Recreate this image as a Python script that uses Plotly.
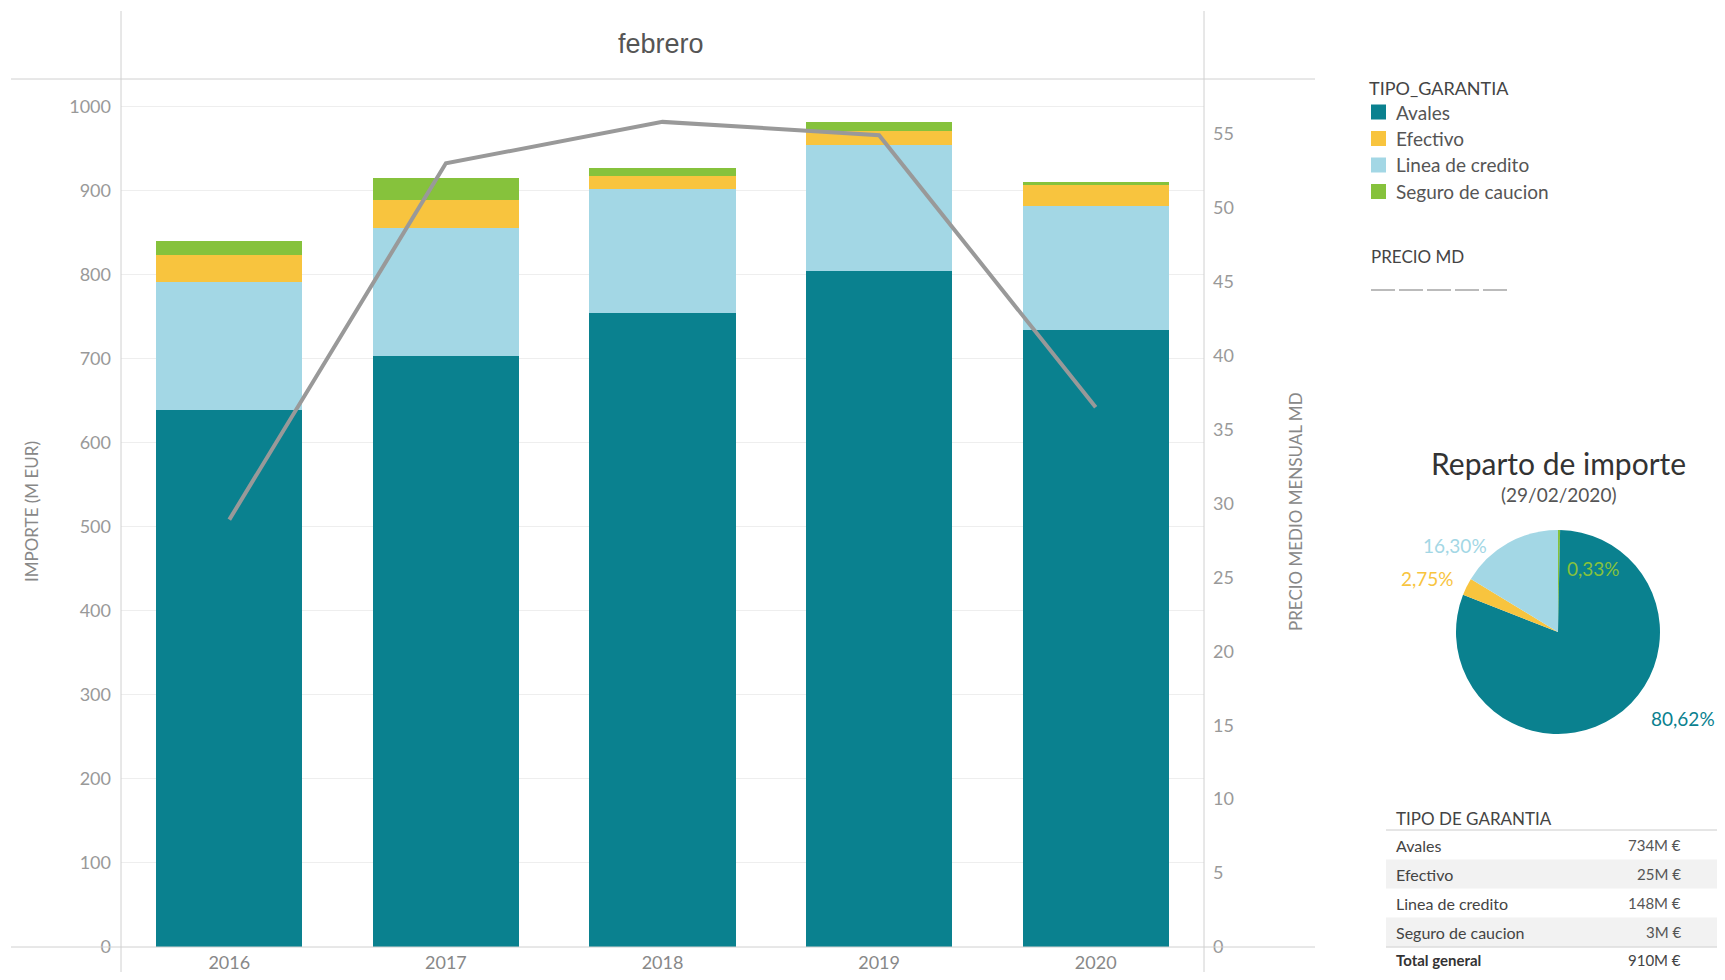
import plotly.graph_objects as go

# the page body adds an 8px margin, so the figure is laid out in page pixels
# and shifted back by that offset
PAGE_W, PAGE_H = 1725, 980
OFF = 8
W, H = PAGE_W - 2 * OFF, PAGE_H - 2 * OFF

# data
years = ["2016", "2017", "2018", "2019", "2020"]
avales = [639, 703, 754, 805, 734]
linea_credito = [153, 153, 148, 149, 148]
efectivo = [31, 33, 15, 17, 25]
seguro_caucion = [17, 26, 10, 11, 3]
precio_md = [28.9, 53.0, 55.8, 54.9, 36.5]

legend_names = ["Avales", "Efectivo", "Linea de credito", "Seguro de caucion"]
colors = {
    "Avales": "#0A818F",
    "Efectivo": "#F8C43E",
    "Linea de credito": "#A3D7E5",
    "Seguro de caucion": "#86C23C",
}

# pie (29/02/2020), clockwise from 12 o'clock
pie_labels = ["Seguro de caucion", "Avales", "Efectivo", "Linea de credito"]
pie_pct = [0.33, 80.62, 2.75, 16.30]

table_labels = ["Avales", "Efectivo", "Linea de credito", "Seguro de caucion"]
table_values = [734, 25, 148, 3]
table_total = 910

FONT = "Lato"
GRID = "#EEEEEE"
AXLINE = "#D0D0D0"


def px(x):
    return (x - OFF) / W


def py(y):
    return 1 - (y - OFF) / H


fig = go.Figure()

stack = [("Avales", avales), ("Linea de credito", linea_credito),
         ("Efectivo", efectivo), ("Seguro de caucion", seguro_caucion)]
for name, vals in stack:
    fig.add_trace(go.Bar(x=years, y=vals, name=name, marker_color=colors[name],
                         marker_line_width=0, showlegend=False))

fig.add_trace(go.Scatter(x=years, y=precio_md, yaxis="y2", mode="lines",
                         line=dict(color="#999999", width=4), showlegend=False))

fig.add_trace(go.Pie(
    labels=pie_labels, values=pie_pct, sort=False, direction="clockwise",
    rotation=0, textinfo="none", hoverinfo="label+percent",
    marker=dict(colors=[colors[n] for n in pie_labels], line=dict(width=0)),
    domain=dict(x=[px(1456), px(1660)], y=[py(734), py(530)]),
    showlegend=False,
))

fig.update_layout(
    width=W, height=H,
    margin=dict(l=0, r=0, t=0, b=0, pad=0, autoexpand=False),
    paper_bgcolor="white", plot_bgcolor="white",
    barmode="stack", bargap=0.325,
    font=dict(family=FONT, color="#555555"),
    xaxis=dict(domain=[px(121), px(1204)], showgrid=False, showline=False,
               zeroline=False, automargin=False,
               tickfont=dict(size=18, color="#888888"), ticklabelstandoff=3),
    yaxis=dict(range=[0, 1033], tickvals=list(range(0, 1001, 100)),
               showgrid=True, gridcolor=GRID, zeroline=False, automargin=False,
               domain=[py(947), py(79)], showline=False,
               tickfont=dict(size=18, color="#999999"), ticklabelstandoff=9),
    yaxis2=dict(range=[0, 58.7], tickvals=list(range(0, 56, 5)), overlaying="y",
                side="right", showgrid=False, zeroline=False, showline=False,
                automargin=False,
                tickfont=dict(size=18, color="#999999"), ticklabelstandoff=8),
)

# frame lines
shapes = [
    dict(x0=px(121), x1=px(121), y0=py(11), y1=0),
    dict(x0=px(1204), x1=px(1204), y0=py(11), y1=0),
    dict(x0=px(11), x1=px(1315), y0=py(79), y1=py(79)),
    dict(x0=px(11), x1=px(1315), y0=py(947), y1=py(947)),
]
for s in shapes:
    fig.add_shape(type="line", xref="paper", yref="paper",
                  line=dict(color=AXLINE, width=1), **s)

ann = []
ann.append(dict(x=px(661), y=py(44), text="febrero",
                font=dict(size=27, color="#555555", family="Liberation Sans")))
ann.append(dict(x=px(31), y=py(512), text="IMPORTE (M EUR)", textangle=-90,
                font=dict(size=17, color="#888888")))
ann.append(dict(x=px(1295), y=py(512), text="PRECIO MEDIO MENSUAL MD", textangle=-90,
                font=dict(size=17, color="#888888")))

# legend
ann.append(dict(x=px(1367), y=py(88), text="TIPO_GARANTIA", xanchor="left",
                font=dict(size=18, color="#444444")))
for i, name in enumerate(legend_names):
    yc = 112 + i * 26.5
    fig.add_shape(type="rect", xref="paper", yref="paper",
                  x0=px(1371), x1=px(1386), y0=py(yc + 7.5), y1=py(yc - 7.5),
                  fillcolor=colors[name], line_width=0)
    ann.append(dict(x=px(1394), y=py(yc), text=name, xanchor="left",
                    font=dict(size=19, color="#555555")))
ann.append(dict(x=px(1369), y=py(257), text="PRECIO MD", xanchor="left",
                font=dict(size=17, color="#444444")))
fig.add_shape(type="line", xref="paper", yref="paper",
              x0=px(1371), x1=px(1510), y0=py(290), y1=py(290),
              line=dict(color="#BBBBBB", width=2, dash="24px,4px"))

# pie titles and labels
ann.append(dict(x=px(1558), y=py(463), text="Reparto de importe",
                font=dict(size=30, color="#333333")))
ann.append(dict(x=px(1558), y=py(494), text="(29/02/2020)",
                font=dict(size=19, color="#555555")))
pie_label_pos = {"Linea de credito": (1455, 545), "Efectivo": (1427, 578),
                 "Seguro de caucion": (1593, 568), "Avales": (1683, 718)}
for name, pct in zip(pie_labels, pie_pct):
    x, y = pie_label_pos[name]
    ann.append(dict(x=px(x), y=py(y), text=f"{pct:.2f}%".replace(".", ","),
                    font=dict(size=19, color=colors[name])))

# summary table
ann.append(dict(x=px(1394), y=py(818), text="TIPO DE GARANTIA", xanchor="left",
                font=dict(size=17, color="#444444")))
fig.add_shape(type="line", xref="paper", yref="paper", x0=px(1386), x1=px(1718),
              y0=py(830), y1=py(830), line=dict(color="#CCCCCC", width=1))
row_y = [845, 874, 903, 932]
for i, (lab, val) in enumerate(zip(table_labels, table_values)):
    if i % 2 == 1:
        fig.add_shape(type="rect", xref="paper", yref="paper", layer="below",
                      x0=px(1386), x1=px(1718), y0=py(row_y[i] + 14.5), y1=py(row_y[i] - 14.5),
                      fillcolor="#F2F2F2", line_width=0)
    ann.append(dict(x=px(1394), y=py(row_y[i]), text=lab, xanchor="left",
                    font=dict(size=16, color="#444444")))
    ann.append(dict(x=px(1683), y=py(row_y[i]), text=f"{val}M €", xanchor="right",
                    font=dict(size=15, color="#555555")))
fig.add_shape(type="line", xref="paper", yref="paper", x0=px(1386), x1=px(1718),
              y0=py(947), y1=py(947), line=dict(color="#CCCCCC", width=1))
ann.append(dict(x=px(1394), y=py(960), text="<b>Total general</b>", xanchor="left",
                font=dict(size=15, color="#333333")))
ann.append(dict(x=px(1683), y=py(960), text=f"{table_total}M €", xanchor="right",
                font=dict(size=15, color="#444444")))

for a in ann:
    a.setdefault("xref", "paper")
    a.setdefault("yref", "paper")
    a.setdefault("xanchor", "center")
    a.setdefault("yanchor", "middle")
    a.setdefault("showarrow", False)
    fig.add_annotation(**a)

fig.write_html("out.html")
